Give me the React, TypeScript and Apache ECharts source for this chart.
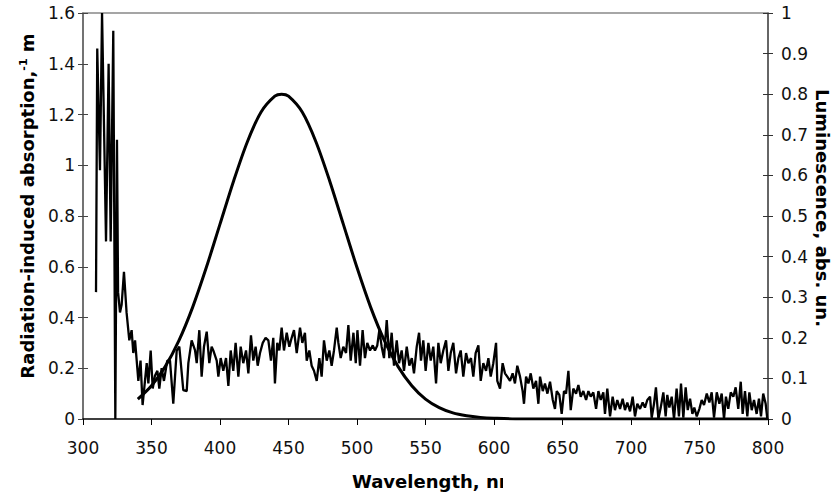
import React, { useEffect, useRef } from "react";
import * as echarts from "echarts";

// Radiation-induced absorption (left axis, m^-1)
const absX = [
  309.5, 310.4, 312.4, 313.9, 316.8, 318.7, 320.2, 322.1, 323.6, 324.8, 325.6, 327.0, 328.2, 329.9,
  331.8, 333.8, 335.5, 336.7, 338.0, 340.4, 342.0, 343.5, 346.5, 347.7, 349.4, 350.9, 352.5, 354.3,
  355.7, 357.4, 359.1, 361.5, 363.5, 365.9, 368.4, 370.3, 373.2, 375.7, 376.9, 379.3, 381.8, 383.0,
  384.9, 386.6, 388.3, 390.3, 392.2, 393.9, 395.1, 397.6, 398.8, 400.5, 402.4, 404.4, 406.1, 407.8,
  409.7, 411.4, 413.4, 415.1, 417.0, 419.0, 420.7, 422.6, 424.3, 426.0, 427.5, 429.2, 431.2, 433.3,
  435.3, 437.2, 438.9, 440.1, 441.8, 443.3, 445.0, 446.7, 448.7, 450.6, 452.3, 454.0, 456.0, 458.4,
  460.1, 462.0, 463.3, 465.2, 466.9, 468.6, 470.6, 472.5, 474.2, 475.9, 477.9, 479.8, 481.5, 483.2,
  485.2, 486.4, 488.1, 490.0, 492.0, 493.7, 495.4, 497.4, 499.1, 500.3, 502.2, 504.1, 505.8, 507.5,
  509.5, 511.5, 513.1, 514.8, 516.3, 518.0, 519.7, 521.7, 523.6, 525.3, 527.0, 529.0, 530.7, 532.6,
  534.3, 536.3, 538.2, 540.0, 541.6, 543.6, 545.3, 546.7, 548.4, 550.1, 552.1, 553.8, 555.7, 557.7,
  559.4, 561.1, 563.0, 565.0, 566.7, 568.4, 570.3, 572.3, 574.0, 575.7, 577.6, 579.6, 581.3, 583.2,
  584.9, 586.6, 588.6, 590.3, 592.2, 594.2, 595.9, 597.6, 599.5, 601.5, 602.4, 604.4, 606.3, 608.0,
  609.7, 611.7, 613.6, 615.3, 617.0, 619.0, 620.9, 621.9, 623.4, 625.1, 626.8, 628.7, 630.7, 632.4,
  633.6, 635.6, 637.2, 639.0, 640.9, 642.9, 644.5, 645.8, 647.7, 649.4, 651.1, 652.6, 654.3, 656.0,
  657.9, 659.9, 661.6, 663.3, 665.2, 667.2, 668.9, 670.6, 672.5, 674.5, 676.2, 677.9, 679.8, 681.0,
  682.7, 684.7, 686.6, 688.3, 690.0, 692.0, 693.9, 695.6, 697.3, 699.3, 701.2, 702.9, 704.6, 706.6,
  708.5, 710.2, 711.9, 713.9, 715.1, 716.8, 718.2, 720.0, 721.7, 723.6, 725.3, 726.5, 728.0, 729.7,
  731.4, 733.3, 735.0, 736.5, 738.2, 739.9, 741.4, 743.1, 744.8, 746.2, 748.0, 749.9, 751.6, 753.3,
  755.3, 757.2, 758.9, 760.6, 762.6, 764.5, 766.2, 767.9, 769.3, 771.0, 772.8, 774.7, 776.4, 778.3,
  780.1, 781.5, 783.2, 784.9, 786.4, 788.1, 789.8, 791.7, 793.4, 794.9, 796.5, 798.3, 799.5,
];
const absY = [
  0.50, 1.46, 0.98, 1.60, 0.70, 1.40, 0.70, 1.53, 0.00, 1.10, 0.50, 0.42, 0.45, 0.58,
  0.42, 0.31, 0.35, 0.26, 0.31, 0.15, 0.23, 0.055, 0.22, 0.14, 0.27, 0.12, 0.17, 0.19,
  0.12, 0.20, 0.15, 0.23, 0.23, 0.06, 0.27, 0.285, 0.114, 0.11, 0.22, 0.31, 0.27, 0.22,
  0.35, 0.167, 0.285, 0.344, 0.22, 0.285, 0.27, 0.23, 0.167, 0.24, 0.19, 0.24, 0.13, 0.27,
  0.19, 0.30, 0.167, 0.285, 0.22, 0.27, 0.18, 0.33, 0.23, 0.285, 0.21, 0.26, 0.30, 0.32,
  0.31, 0.23, 0.32, 0.14, 0.30, 0.27, 0.36, 0.27, 0.34, 0.285, 0.32, 0.35, 0.26, 0.36,
  0.30, 0.34, 0.23, 0.27, 0.21, 0.19, 0.15, 0.24, 0.167, 0.31, 0.23, 0.27, 0.21, 0.27,
  0.36, 0.30, 0.24, 0.285, 0.26, 0.37, 0.23, 0.34, 0.22, 0.35, 0.21, 0.35, 0.24, 0.30,
  0.27, 0.29, 0.27, 0.29, 0.35, 0.285, 0.24, 0.39, 0.24, 0.34, 0.21, 0.31, 0.22, 0.27,
  0.19, 0.285, 0.21, 0.24, 0.18, 0.285, 0.34, 0.23, 0.31, 0.19, 0.30, 0.23, 0.285, 0.14,
  0.30, 0.22, 0.27, 0.31, 0.19, 0.26, 0.30, 0.18, 0.24, 0.27, 0.167, 0.26, 0.22, 0.24,
  0.167, 0.26, 0.29, 0.15, 0.22, 0.19, 0.24, 0.167, 0.22, 0.30, 0.15, 0.12, 0.22, 0.18,
  0.167, 0.15, 0.18, 0.14, 0.21, 0.167, 0.11, 0.06, 0.167, 0.14, 0.18, 0.12, 0.15, 0.06,
  0.167, 0.11, 0.14, 0.10, 0.147, 0.075, 0.04, 0.11, 0.095, 0.02, 0.11, 0.10, 0.19, 0.035,
  0.12, 0.10, 0.134, 0.088, 0.11, 0.075, 0.11, 0.088, 0.105, 0.04, 0.11, 0.075, 0.105, 0.02,
  0.12, 0.01, 0.088, 0.035, 0.075, 0.04, 0.08, 0.035, 0.065, 0.03, 0.088, 0.01, 0.06, 0.04,
  0.065, 0.045, 0.075, 0.088, 0.005, 0.06, 0.125, 0.0, 0.045, 0.105, 0.01, 0.095, 0.045, 0.088,
  0.0, 0.12, 0.01, 0.14, 0.005, 0.125, 0.035, 0.08, 0.02, 0.045, 0.01, 0.04, 0.075, 0.055,
  0.10, 0.065, 0.105, 0.005, 0.105, 0.06, 0.10, 0.0, 0.088, 0.04, 0.105, 0.088, 0.125, 0.04,
  0.147, 0.02, 0.11, 0.01, 0.105, 0.035, 0.075, 0.02, 0.08, 0.01, 0.10, 0.06, 0.0,
];

// Luminescence (right axis, abs. un.)
const lumX = [
  340, 350, 360, 370, 380, 390, 400, 410, 420, 430, 440, 445, 450, 460, 470, 480, 490, 500,
  510, 520, 530, 540, 550, 560, 570, 580, 590, 600, 620, 650, 700, 750, 800,
];
const lumY = [
  0.049, 0.082, 0.129, 0.193, 0.275, 0.373, 0.48, 0.587, 0.683, 0.756, 0.795, 0.8, 0.795, 0.756,
  0.683, 0.587, 0.48, 0.373, 0.275, 0.193, 0.129, 0.082, 0.049, 0.028, 0.015, 0.008, 0.004, 0.002,
  0, 0, 0, 0, 0,
];

const xTicks = { min: 300, max: 800, interval: 50 };
const leftTicks = { min: 0, max: 1.6, interval: 0.2 };
const rightTicks = { min: 0, max: 1, interval: 0.1 };

const FONT = "DejaVu Sans";

export default function App() {
  const ref = useRef<HTMLDivElement>(null);
  useEffect(() => {
    if (!ref.current) return;
    const chart = echarts.init(ref.current, null, { renderer: "svg" });
    const labelStyle = { fontFamily: FONT, fontSize: 17, color: "#111" };
    chart.setOption({
      animation: false,
      backgroundColor: "#fff",
      grid: { left: 83, right: 66, top: 13, bottom: 80 },
      xAxis: [
        {
          type: "value",
          position: "bottom",
          ...xTicks,
          axisLine: { show: true, lineStyle: { color: "#000", width: 1.5 } },
          axisTick: { show: true, inside: false, length: 6, lineStyle: { color: "#000" } },
          axisLabel: { ...labelStyle, margin: 20 },
          splitLine: { show: false },
        },
        {
          type: "value",
          position: "top",
          ...xTicks,
          axisLine: { show: true, onZero: false, lineStyle: { color: "#888", width: 1.5 } },
          axisTick: { show: false },
          axisLabel: { show: false },
          splitLine: { show: false },
        },
      ],
      yAxis: [
        {
          type: "value",
          position: "left",
          ...leftTicks,
          axisLine: { show: true, lineStyle: { color: "#444", width: 1.5 } },
          axisTick: { show: true, inside: false, length: 5, lineStyle: { color: "#444" } },
          axisLabel: { ...labelStyle, margin: 8 },
          splitLine: { show: false },
        },
        {
          type: "value",
          position: "right",
          ...rightTicks,
          axisLine: { show: true, lineStyle: { color: "#333", width: 1.5 } },
          axisTick: { show: true, inside: false, length: 5, lineStyle: { color: "#333" } },
          axisLabel: { ...labelStyle, margin: 13 },
          splitLine: { show: false },
        },
        {
          type: "value",
          position: "left",
          ...leftTicks,
          axisLine: { show: false },
          axisTick: { show: true, inside: true, length: 5, lineStyle: { color: "#444" } },
          axisLabel: { show: false },
          splitLine: { show: false },
        },
        {
          type: "value",
          position: "right",
          ...rightTicks,
          axisLine: { show: false },
          axisTick: { show: true, inside: true, length: 5, lineStyle: { color: "#333" } },
          axisLabel: { show: false },
          splitLine: { show: false },
        },
      ],
      series: [
        {
          name: "Absorption",
          type: "line",
          xAxisIndex: 0,
          yAxisIndex: 0,
          data: absX.map((x, i) => [x, absY[i]]),
          showSymbol: false,
          symbol: "none",
          lineStyle: { color: "#000", width: 2.3 },
          z: 3,
        },
        {
          name: "Luminescence",
          type: "line",
          xAxisIndex: 0,
          yAxisIndex: 1,
          data: lumX.map((x, i) => [x, lumY[i]]),
          showSymbol: false,
          symbol: "none",
          smooth: 0.3,
          lineStyle: { color: "#000", width: 3 },
          z: 4,
        },
      ],
      graphic: [
        {
          type: "text",
          x: 27,
          y: 206,
          rotation: Math.PI / 2,
          style: {
            text: "Radiation-induced absorption,{s|-1} m",
            fontFamily: FONT,
            fontSize: 18,
            fontWeight: "bold",
            fill: "#000",
            textAlign: "center",
            textVerticalAlign: "middle",
            align: "center",
            verticalAlign: "middle",
            rich: {
              s: {
                fontFamily: FONT,
                fontSize: 11,
                fontWeight: "bold",
                fill: "#000",
                verticalAlign: "top",
              },
            },
          },
        },
        {
          type: "text",
          x: 822,
          y: 208,
          rotation: -Math.PI / 2,
          style: {
            text: "Luminescence, abs. un.",
            fontFamily: FONT,
            fontSize: 18,
            fontWeight: "bold",
            fill: "#000",
            textAlign: "center",
            textVerticalAlign: "middle",
            align: "center",
            verticalAlign: "middle",
          },
        },
        {
          type: "text",
          x: 352,
          y: 481,
          style: {
            text: "Wavelength, nm",
            fontFamily: FONT,
            fontSize: 18,
            fontWeight: "bold",
            fill: "#000",
            textAlign: "left",
            textVerticalAlign: "middle",
            align: "left",
            verticalAlign: "middle",
          },
        },
        {
          type: "rect",
          shape: { x: 503, y: 466, width: 30, height: 30 },
          style: { fill: "#fff" },
          z: 100,
        },
      ],
    });
    return () => chart.dispose();
  }, []);
  return <div ref={ref} style={{ width: 834, height: 499, position: "absolute", left: 0, top: 0 }} />;
}
